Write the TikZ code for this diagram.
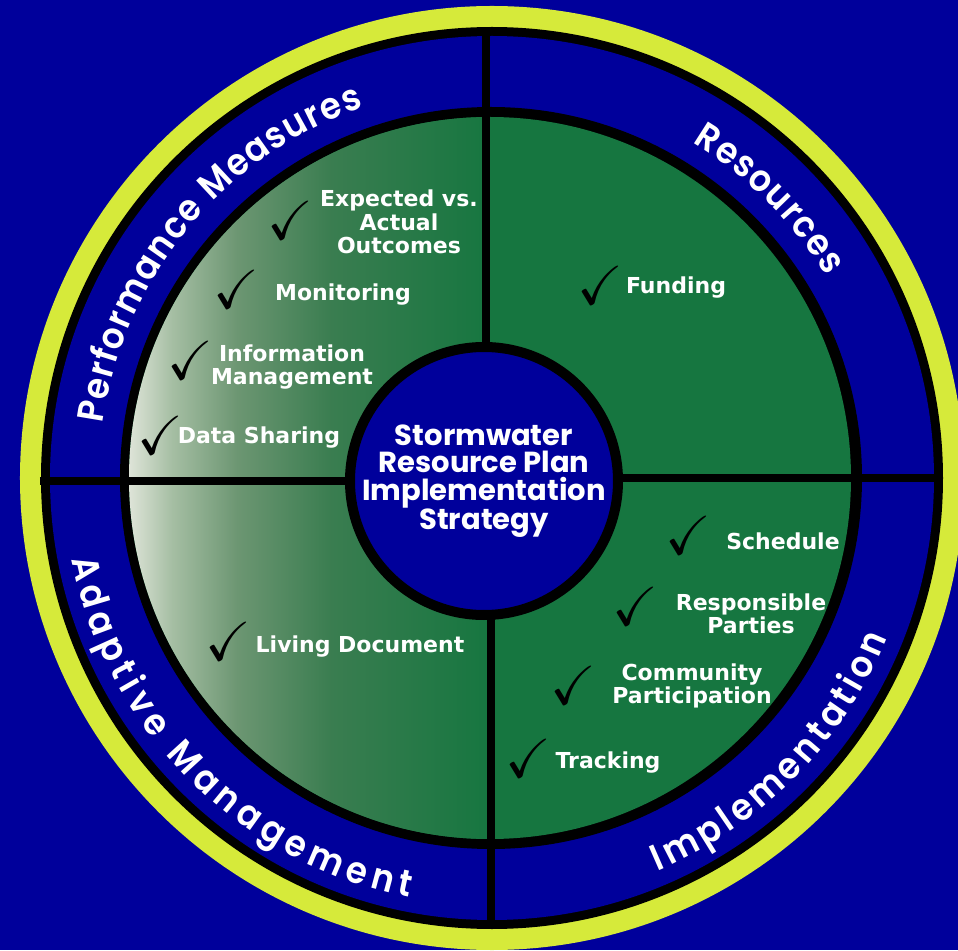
\documentclass[tikz,border=0pt]{standalone}
\usepackage{amssymb}
\usepackage{fontspec}
\setmainfont{DejaVu Sans}
\newfontfamily\hubfont{Poppins}
\newfontfamily\ringfont{Poppins}[UprightFont=* SemiBold,FakeStretch=0.92]
\usetikzlibrary{decorations.text}

\definecolor{deepblue}{RGB}{0,0,155}
\definecolor{leaf}{RGB}{22,118,64}
\definecolor{lime}{RGB}{214,234,58}
\definecolor{paleleaf}{RGB}{222,228,216}
\definecolor{softleaf}{RGB}{165,190,163}
\definecolor{midleaf}{RGB}{108,150,114}
\definecolor{darkleaf}{RGB}{58,125,80}

% the left half of the green disc fades out to the left
\pgfdeclarehorizontalshading{leaffade}{100bp}{color(0bp)=(paleleaf); color(25bp)=(paleleaf);
  color(31bp)=(softleaf); color(40bp)=(midleaf); color(53bp)=(darkleaf); color(75bp)=(leaf); color(100bp)=(leaf)}

\newcommand\ringtype{\ringfont\fontsize{37}{40}\selectfont\color{white}}

\tikzset{
  divider/.style={black,line width=8pt},
  hub/.style={circle,fill=deepblue,draw=black,line width=10pt,minimum size=268pt,inner sep=0pt,
    text=white,align=center,font=\hubfont\bfseries\fontsize{29}{27.5}\selectfont},
  item/.style={text=white,align=center,inner sep=0pt,font=\bfseries\fontsize{22}{23.5}\selectfont},
  tick/.style={text=black,inner sep=0pt,font=\fontsize{55}{55}\selectfont},
  ringtext/.style={decorate,decoration={text along path,text={|\ringtype|#1},text align={fit to path}}}
}

\begin{document}
\begin{tikzpicture}[x=1pt,y=1pt]
\useasboundingbox (-491,-472) rectangle (467,478);
\fill[deepblue] (-491,-472) rectangle (467,478);

% outer rings
\fill[lime] (1,0) circle (472);
\fill[black] (1,0) circle (451);
\fill[deepblue] (1,0) circle (442);
\fill[black] (0,0) circle (371);
\fill[leaf] (-1,0) circle (361);
\shade[shading=leaffade] (-1,361) arc[start angle=90,end angle=270,radius=361] -- cycle;

% quarters
\draw[divider] (-5,451) -- (-5,0);
\draw[divider] (0,0) -- (0,-451);
\draw[divider] (-451,-3) -- (0,-3);
\draw[divider] (0,0) -- (451,0);

\node[hub] (hub) at (-7,-3) {Stormwater\\Resource Plan\\Implementation\\Strategy};

% ring labels
\path[ringtext=Performance Measures] (172:392) arc[start angle=172,end angle=109,radius=392];
\path[ringtext=Resources] (59:391) arc[start angle=59,end angle=31,radius=391];
\path[ringtext=Implementation] (-67:427) arc[start angle=-67,end angle=-22,radius=427];
\path[ringtext=Adaptive Management] (191:427) arc[start angle=191,end angle=259,radius=427];

% items in each quarter
\node[item] (outcomes) at (-92,256) {Expected vs.\\Actual\\Outcomes};
\node[item] (monitoring) at (-148,183) {Monitoring};
\node[item] (infomgmt) at (-199,111) {Information\\Management};
\node[item] (datashare) at (-232,40) {Data Sharing};
\node[item] (funding) at (185,190) {Funding};
\node[item] (livingdoc) at (-131,-169) {Living Document};
\node[item] (schedule) at (292,-63) {Schedule};
\node[item] (parties) at (260,-136) {Responsible\\Parties};
\node[item] (community) at (201,-208) {Community\\Participation};
\node[item] (tracking) at (117,-285) {Tracking};

\foreach \n/\x/\y in {t1/-201/258,t2/-255/189,t3/-301/118,t4/-331/43,t5/109/193,
    t6/-263/-163,t7/197/-57,t8/144/-128,t9/82/-207,t10/37/-280}
  \node[tick] (\n) at (\x,\y) {\checkmark};
\end{tikzpicture}
\end{document}
